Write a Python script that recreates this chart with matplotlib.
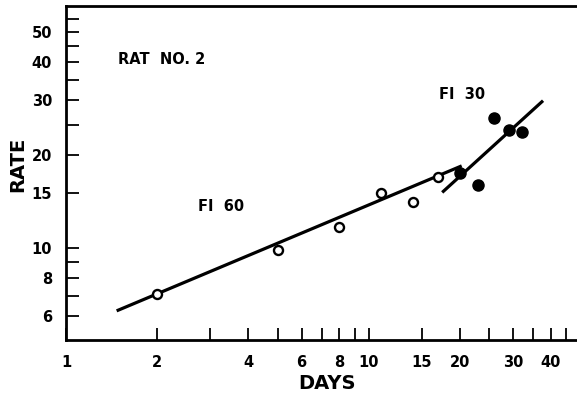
import matplotlib
matplotlib.use("Agg")
import matplotlib.pyplot as plt
from matplotlib.ticker import FixedLocator, FixedFormatter, NullFormatter

# Data
fi60_days = [2, 5, 8, 11, 14, 17]
fi60_rate = [7.1, 9.85, 11.7, 15.0, 14.1, 16.9]
fi30_days = [20, 23, 26, 29, 32]
fi30_rate = [17.5, 16.0, 26.2, 24.1, 23.7]
fi60_line_days = [1.47, 20.3]
fi60_line_rate = [6.25, 18.4]
fi30_line_days = [17.5, 37.7]
fi30_line_rate = [15.1, 29.9]

x_major = [1, 2, 4, 6, 8, 10, 15, 20, 30, 40]
x_minor = [3, 5, 7, 9, 25, 35, 45, 50]
y_major = [6, 8, 10, 15, 20, 30, 40, 50]
y_minor = [7, 9, 25, 35, 45, 55]

plt.rcParams['font.family'] = ['DejaVu Sans']
fig = plt.figure(figsize=(5.77, 4.05), dpi=100)
ax = fig.add_axes([0.1144, 0.1605, 0.8856 + 0.01, 0.8245])
ax.set_xscale('log')
ax.set_yscale('log')

ax.plot(fi60_line_days, fi60_line_rate, color='black', lw=2.3, solid_capstyle='butt')
ax.plot(fi30_line_days, fi30_line_rate, color='black', lw=2.3, solid_capstyle='butt')
ax.plot(fi60_days, fi60_rate, 'o', ms=6.5, mfc='white', mec='black', mew=1.7, zorder=3)
ax.plot(fi30_days, fi30_rate, 'o', ms=8, mfc='black', mec='black', zorder=3)

ax.set_xlim(1, 51)
ax.set_ylim(5.03, 60.5)

ax.xaxis.set_major_locator(FixedLocator(x_major))
ax.xaxis.set_major_formatter(FixedFormatter([str(v) for v in x_major]))
ax.xaxis.set_minor_locator(FixedLocator(x_minor))
ax.xaxis.set_minor_formatter(NullFormatter())
ax.yaxis.set_major_locator(FixedLocator(y_major))
ax.yaxis.set_major_formatter(FixedFormatter([str(v) for v in y_major]))
ax.yaxis.set_minor_locator(FixedLocator(y_minor))
ax.yaxis.set_minor_formatter(NullFormatter())

ax.tick_params(axis='both', which='both', direction='in', length=9, width=1.3,
               labelsize=10.5)
ax.tick_params(axis='x', which='both', pad=11)
ax.tick_params(axis='y', which='both', pad=10)
for lab in ax.get_xticklabels() + ax.get_yticklabels():
    lab.set_fontweight('bold')

for s in ['left', 'bottom', 'top']:
    ax.spines[s].set_linewidth(2)
ax.spines['right'].set_visible(False)

ax.text(0.1, 0.84, 'RAT  NO. 2', transform=ax.transAxes, fontsize=10.5,
        fontweight='bold', ha='left', va='center')
ax.text(0.255, 0.40, 'FI  60', transform=ax.transAxes, fontsize=10.5,
        fontweight='bold', ha='left', va='center')
ax.text(0.722, 0.735, 'FI  30', transform=ax.transAxes, fontsize=10.5,
        fontweight='bold', ha='left', va='center')

fig.text(0.031, 0.593, 'RATE', rotation=90, fontsize=14, fontweight='bold',
         ha='center', va='center')
fig.text(0.567, 0.052, 'DAYS', fontsize=14, fontweight='bold',
         ha='center', va='center')

fig.savefig('out.png', dpi=100)
